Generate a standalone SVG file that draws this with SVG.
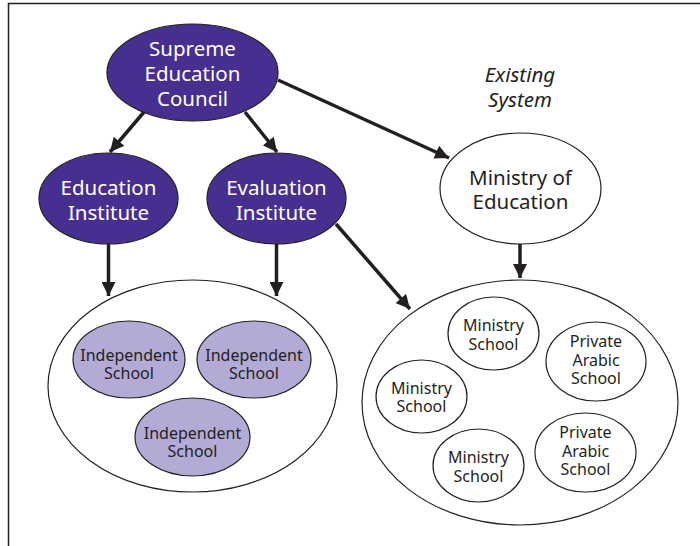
<svg xmlns="http://www.w3.org/2000/svg" width="700" height="546" viewBox="0 0 700 546">
<defs>
<marker id="ah" markerWidth="14" markerHeight="14" refX="14" refY="7" orient="auto" markerUnits="userSpaceOnUse">
<path d="M0,0 L14,7 L0,14 Z" fill="#231f20"/>
</marker>
<style>
.dark{fill:#472f8f;stroke:#231f20;stroke-width:1.2}
.light{fill:#b4aad6;stroke:#231f20;stroke-width:1.2}
.white{fill:#ffffff;stroke:#231f20;stroke-width:1.2}
.big{font-family:"Noto Sans","Open Sans",sans-serif;font-size:20.5px;text-anchor:middle}
.sm{font-family:"Noto Sans","Open Sans",sans-serif;font-size:16px;text-anchor:middle;fill:#231f20}
.wt{fill:#ffffff}
.dk{fill:#231f20}
.conn{stroke:#231f20;stroke-width:3.5;fill:none;marker-end:url(#ah)}
</style>
</defs>
<rect x="0" y="0" width="700" height="546" fill="#ffffff"/>
<path d="M8.5,546 V3.5 H700" fill="none" stroke="#231f20" stroke-width="1.5"/>

<g id="connectors">
<line class="conn" x1="144" y1="112" x2="110" y2="152"/>
<line class="conn" x1="245" y1="112" x2="277" y2="152"/>
<line class="conn" x1="278" y1="80" x2="449" y2="158"/>
<line class="conn" x1="108.5" y1="244" x2="108.5" y2="296"/>
<line class="conn" x1="276.5" y1="244" x2="276.5" y2="296"/>
<line class="conn" x1="336" y1="224" x2="410" y2="309"/>
<line class="conn" x1="520" y1="244" x2="520" y2="278"/>
</g>

<g id="sec">
<ellipse class="dark" cx="192.5" cy="72.5" rx="85.5" ry="48.5"/>
<text class="big wt" x="192.5" y="56">Supreme</text>
<text class="big wt" x="192.5" y="81">Education</text>
<text class="big wt" x="192.5" y="106">Council</text>
</g>

<g id="existing-label">
<text class="big dk" font-style="italic" x="520" y="82">Existing</text>
<text class="big dk" font-style="italic" x="520" y="107">System</text>
</g>

<g id="education-institute">
<ellipse class="dark" cx="108.5" cy="198.5" rx="69.5" ry="45.5"/>
<text class="big wt" x="108.5" y="195">Education</text>
<text class="big wt" x="108.5" y="220">Institute</text>
</g>

<g id="evaluation-institute">
<ellipse class="dark" cx="276.5" cy="198.5" rx="69.5" ry="45.5"/>
<text class="big wt" x="276.5" y="195">Evaluation</text>
<text class="big wt" x="276.5" y="220">Institute</text>
</g>

<g id="ministry-of-education">
<ellipse class="white" cx="520.5" cy="188.5" rx="80.5" ry="55.5"/>
<text class="big dk" x="520.5" y="185">Ministry of</text>
<text class="big dk" x="520.5" y="209">Education</text>
</g>

<g id="independent-group">
<ellipse class="white" cx="192.5" cy="386" rx="144.5" ry="106"/>
<g id="ind1">
<ellipse class="light" cx="129" cy="359.5" rx="56" ry="38.5"/>
<text class="sm" x="129" y="361">Independent</text>
<text class="sm" x="129" y="379">School</text>
</g>
<g id="ind2">
<ellipse class="light" cx="254" cy="359.5" rx="57" ry="38.5"/>
<text class="sm" x="254" y="361">Independent</text>
<text class="sm" x="254" y="379">School</text>
</g>
<g id="ind3">
<ellipse class="light" cx="192.5" cy="437" rx="57.5" ry="39"/>
<text class="sm" x="192.5" y="439">Independent</text>
<text class="sm" x="192.5" y="457">School</text>
</g>
</g>

<g id="existing-group">
<ellipse class="white" cx="520" cy="402.5" rx="158" ry="122.5"/>
<g id="ms1">
<ellipse class="white" cx="493.5" cy="333.5" rx="45.5" ry="36.5"/>
<text class="sm" x="493.5" y="331">Ministry</text>
<text class="sm" x="493.5" y="350">School</text>
</g>
<g id="pas1">
<ellipse class="white" cx="596" cy="361.5" rx="50" ry="39.5"/>
<text class="sm" x="596" y="347">Private</text>
<text class="sm" x="596" y="366">Arabic</text>
<text class="sm" x="596" y="384">School</text>
</g>
<g id="ms2">
<ellipse class="white" cx="421.5" cy="396.5" rx="45.5" ry="36.5"/>
<text class="sm" x="421.5" y="394">Ministry</text>
<text class="sm" x="421.5" y="412">School</text>
</g>
<g id="ms3">
<ellipse class="white" cx="478.5" cy="465.5" rx="45.5" ry="36.5"/>
<text class="sm" x="478.5" y="463">Ministry</text>
<text class="sm" x="478.5" y="482">School</text>
</g>
<g id="pas2">
<ellipse class="white" cx="585.5" cy="452.5" rx="50.5" ry="39.5"/>
<text class="sm" x="585.5" y="438">Private</text>
<text class="sm" x="585.5" y="457">Arabic</text>
<text class="sm" x="585.5" y="475">School</text>
</g>
</g>
</svg>
